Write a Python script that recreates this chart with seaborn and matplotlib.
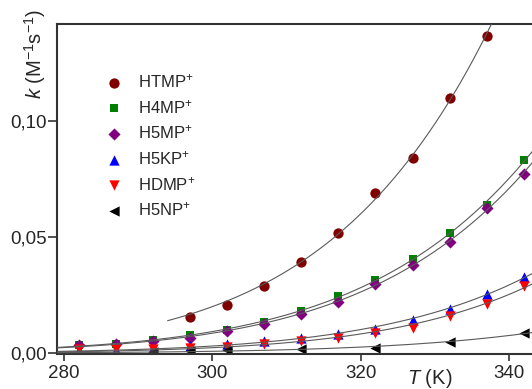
import numpy as np
import pandas as pd
import matplotlib
matplotlib.use("Agg")
import matplotlib.pyplot as plt
import seaborn as sns

# ---- data (T in K, k in M^-1 s^-1) ----
T_htmp = [297, 302, 307, 312, 317, 322, 327, 332, 337]
k_htmp = [0.0155, 0.0208, 0.0291, 0.0392, 0.0519, 0.0692, 0.0840, 0.1100, 0.1368]

T_all = [282, 287, 292, 297, 302, 307, 312, 317, 322, 327, 332, 337, 342]
k_h4mp = [0.0034, 0.0039, 0.0058, 0.0079, 0.0100, 0.0136, 0.0180, 0.0245, 0.0316, 0.0406, 0.0520, 0.0639, 0.0833]
k_h5mp = [0.0033, 0.0037, 0.0053, 0.0065, 0.0095, 0.0125, 0.0169, 0.0220, 0.0297, 0.0381, 0.0481, 0.0626, 0.0773]
k_h5kp = [0.0012, 0.0014, 0.0022, 0.0032, 0.0040, 0.0050, 0.0064, 0.0082, 0.0105, 0.0144, 0.0191, 0.0256, 0.0327]
k_hdmp = [0.0017, 0.0017, 0.0018, 0.0022, 0.0028, 0.0040, 0.0052, 0.0066, 0.0088, 0.0108, 0.0158, 0.0212, 0.0291]

T_h5np = [292, 297, 302, 312, 322, 332, 342]
k_h5np = [0.0006, 0.0008, 0.0012, 0.0017, 0.0024, 0.0046, 0.0086]

labels = ["HTMP", "H4MP", "H5MP", "H5KP", "HDMP", "H5NP"]
colors = ["#800000", "#008000", "#800080", "#0000ff", "#ff0000", "#000000"]
markers = ["o", "s", "D", "^", "v", "<"]
sizes = [55, 38, 38, 55, 55, 55]
fit_start = [294, 279, 279, 279, 279, 279]

series = [(T_htmp, k_htmp), (T_all, k_h4mp), (T_all, k_h5mp),
          (T_all, k_h5kp), (T_all, k_hdmp), (T_h5np, k_h5np)]

# ---- style ----
sns.set_style("ticks")
plt.rcParams["font.family"] = ["Liberation Sans", "DejaVu Sans"]
plt.rcParams["mathtext.fontset"] = "custom"
plt.rcParams["mathtext.rm"] = "Liberation Sans"
plt.rcParams["mathtext.it"] = "Liberation Sans:italic"
plt.rcParams["mathtext.bf"] = "Liberation Sans:bold"

fig = plt.figure(figsize=(5.32, 3.89), dpi=100)
ax = fig.add_axes([57 / 532, 35 / 389, 1 - 57 / 532, 330 / 389])

xlim = (279.1, 343.1)
ylim = (-0.0004, 0.142)

for (T, k), lab, col, mk, s in zip(series, labels, colors, markers, sizes):
    df = pd.DataFrame({"T": T, "k": k})
    sns.scatterplot(data=df, x="T", y="k", color=col, marker=mk, s=s,
                    linewidth=0, label=lab + r"$^{+}$", ax=ax, zorder=2)

# Arrhenius fits (ln k vs 1/T), weighted toward the larger values
for (T, k), t0 in zip(series, fit_start):
    T = np.asarray(T, float)
    k = np.asarray(k, float)
    p = np.polyfit(1 / T, np.log(k), 1, w=k)
    tt = np.linspace(t0, xlim[1] + 2, 300)
    ax.plot(tt, np.exp(np.polyval(p, 1 / tt)), color="#5a5a5a", lw=0.8, zorder=3)

ax.set_xlim(*xlim)
ax.set_ylim(*ylim)
ax.set_xticks([280, 300, 320, 340])
ax.set_yticks([0.0, 0.05, 0.10])
ax.set_yticklabels(["0,00", "0,05", "0,10"])

ax.tick_params(axis="both", labelsize=13.5, color="#222222", width=1.1, direction="out")
ax.tick_params(axis="y", length=6.5, pad=1)
ax.tick_params(axis="x", length=5, pad=3)

for side in ["left", "bottom", "top"]:
    ax.spines[side].set_visible(True)
    ax.spines[side].set_linewidth(1.5)
    ax.spines[side].set_color("#333333")
ax.spines["right"].set_visible(False)

ax.set_xlabel(r"$\mathit{T}$ (K)", fontsize=14.5)
ax.xaxis.set_label_coords(0.785, -0.04)
ax.set_ylabel(r"$\mathit{k}$ (M$^{-1}$s$^{-1}$)", fontsize=14.5, loc="top")
ax.yaxis.set_label_coords(-0.02, 1.045)

handles, labs = ax.get_legend_handles_labels()
ax.legend(handles, labs, loc="upper left", bbox_to_anchor=(0.103, 0.854),
          frameon=False, fontsize=12, borderpad=0, borderaxespad=0,
          handlelength=1.0, handletextpad=0.94, labelspacing=0.46)

fig.savefig("out.png", dpi=100)
